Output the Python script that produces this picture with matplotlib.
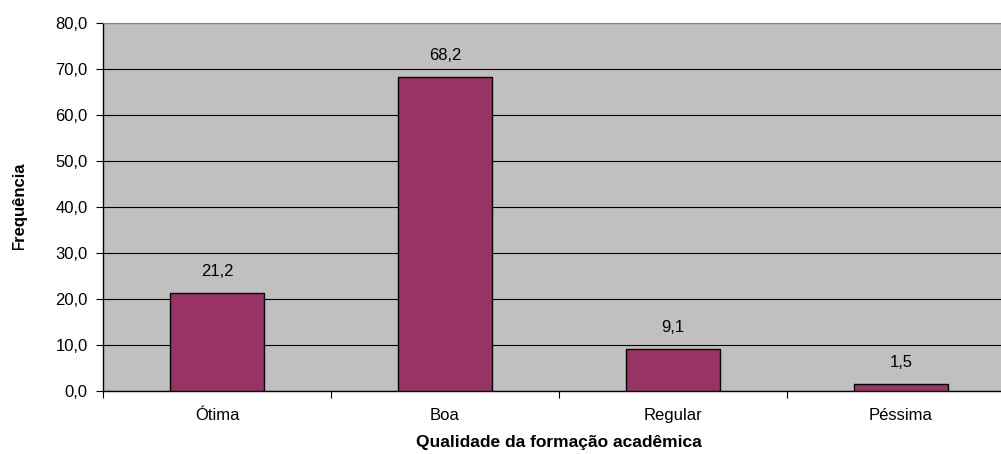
import numpy as np
import matplotlib as mpl
import matplotlib.pyplot as plt
from matplotlib.transforms import Bbox

mpl.rcParams['font.family'] = 'Liberation Sans'
mpl.rcParams['font.size'] = 12

categorias = ['Ótima', 'Boa', 'Regular', 'Péssima']
frequencia = [21.2, 68.2, 9.1, 1.5]
yticks = [0, 10, 20, 30, 40, 50, 60, 70, 80]

fig = plt.figure(figsize=(10.01, 4.54), dpi=100)
# plot area runs a bit past the right edge, like the original
ax = fig.add_axes([103/1001, 1 - 391/454, 912/1001, 368/454])
ax.set_facecolor('#C0C0C0')

x = np.arange(len(categorias))
ax.bar(x, frequencia, width=0.41, color='#993366', edgecolor='k', linewidth=1, zorder=3)
for xi, v in zip(x, frequencia):
    ax.text(xi, v + 4.8, f'{v:.1f}'.replace('.', ','), ha='center', va='center', fontsize=12, zorder=4)

ax.set_xlim(-0.5, len(categorias) - 0.5)
ax.set_ylim(0, 80)
ax.set_yticks(yticks)
ax.set_yticklabels([f'{t:.1f}'.replace('.', ',') for t in yticks])
ax.yaxis.grid(True, color='k', linewidth=0.8, zorder=0)
ax.tick_params(axis='y', direction='out', length=5, width=0.8, pad=6)

ax.set_xticks(x)
ax.set_xticklabels(categorias)
ax.set_xticks(np.arange(-0.5, len(categorias)), minor=True)
ax.tick_params(axis='x', which='major', length=0, pad=12)
ax.tick_params(axis='x', which='minor', direction='out', length=5, width=0.8)

for s in ['left', 'bottom']:
    ax.spines[s].set_color('k')
    ax.spines[s].set_linewidth(1)
ax.spines['top'].set_color('#808080')
ax.spines['right'].set_visible(False)

ax.set_xlabel('Qualidade da formação acadêmica', fontweight='bold', fontsize=12.5, labelpad=9)

# y label is cut off at the top in the original
yl = fig.text(19/1001, 1 - 250/454, 'Frequência', rotation=90, fontweight='bold', fontsize=12,
              ha='center', va='bottom')
yl.set_clip_box(Bbox.from_extents(0, 454 - 250, 60, 454 - 157))
yl.set_clip_on(True)

plt.savefig('out.png', dpi=100)
